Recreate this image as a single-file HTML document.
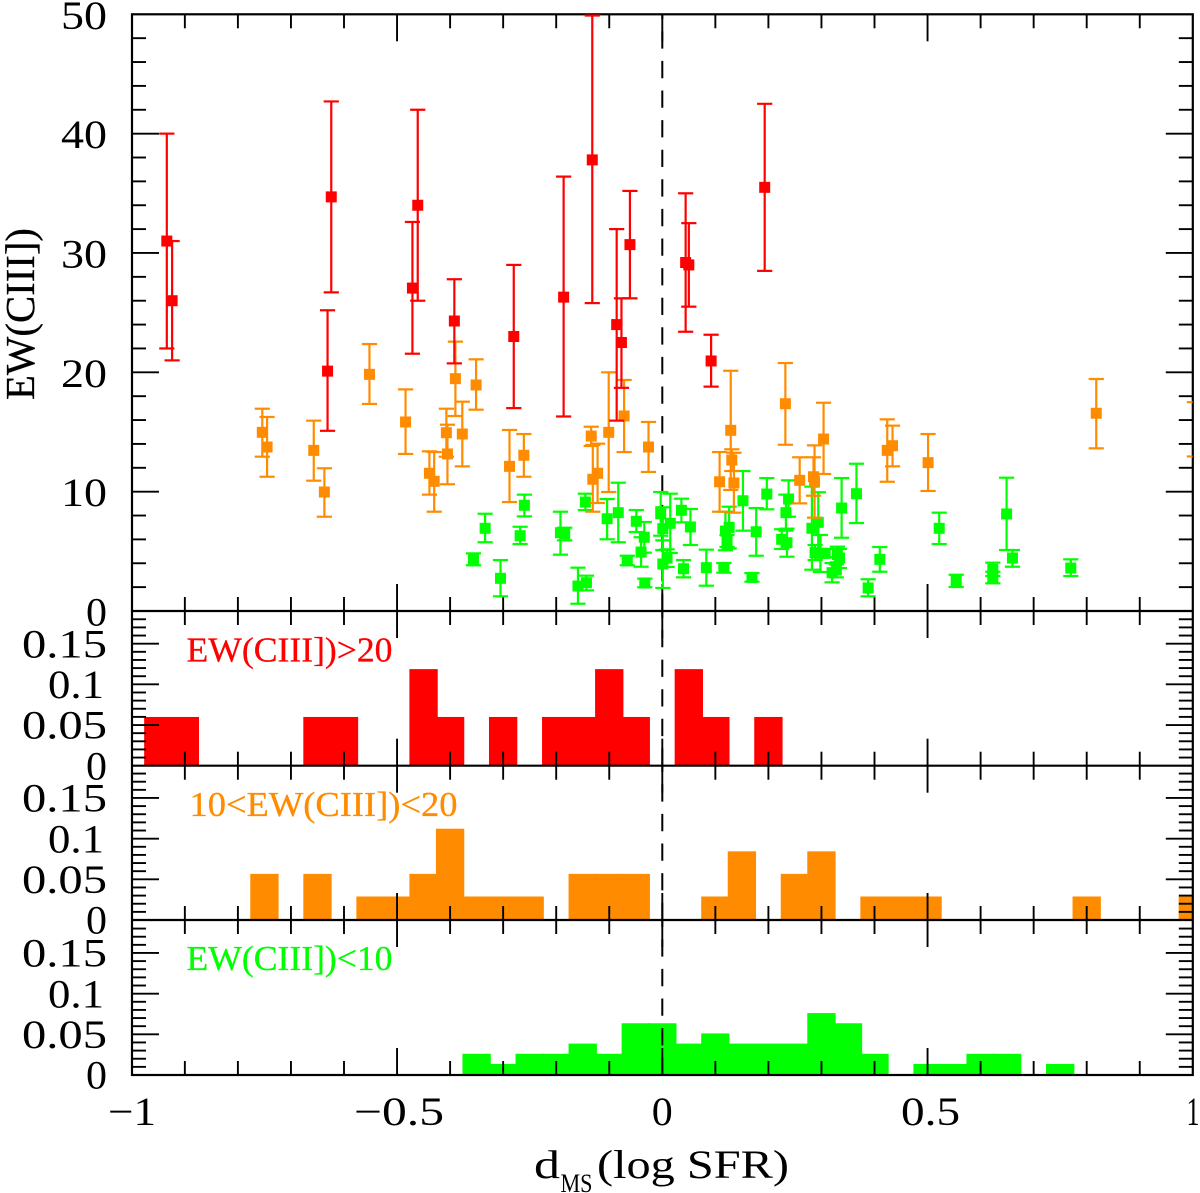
<!DOCTYPE html>
<html lang="en">
<head>
<meta charset="utf-8">
<title>EW(CIII]) versus distance from the main sequence</title>
<style>
  html, body { margin: 0; padding: 0; background: #fff; }
  svg { display: block; }
  text { font-family: "Liberation Serif", "DejaVu Serif", serif; fill: #000; }
  .heavy { stroke-width: 0.3px; }
</style>
</head>
<body>
<svg id="chart" width="1200" height="1193" viewBox="0 0 1200 1193" xmlns="http://www.w3.org/2000/svg">
  <defs>
    <clipPath id="clip-main"><rect x="131.5" y="14.3" width="1061" height="596.7"/></clipPath>
    <clipPath id="clip-red"><rect x="131.5" y="611" width="1061" height="154.7"/></clipPath>
    <clipPath id="clip-orange"><rect x="131.5" y="765.7" width="1061" height="154.3"/></clipPath>
    <clipPath id="clip-green"><rect x="131.5" y="920" width="1061" height="155"/></clipPath>
  </defs>
  <g id="layer-hist"></g>
  <g id="layer-dash"></g>
  <g id="layer-ticks"></g>
  <g id="layer-frame"></g>
  <g id="layer-scatter" clip-path="url(#clip-main)"></g>
  <g id="layer-labels"></g>

  <text class="heavy" stroke="#000" transform="translate(34,400) rotate(-90)" font-size="41" textLength="172" lengthAdjust="spacingAndGlyphs">EW(CIII])</text>
  <text x="534" y="1178" font-size="40" textLength="26" lengthAdjust="spacingAndGlyphs">d</text>
  <text x="560.5" y="1192" font-size="26" textLength="32" lengthAdjust="spacingAndGlyphs">MS</text>
  <text x="597" y="1178" font-size="40" textLength="192" lengthAdjust="spacingAndGlyphs">(log SFR)</text>

  <text class="heavy" stroke="#ff0000" x="186.5" y="661.7" font-size="35" textLength="206" lengthAdjust="spacingAndGlyphs" style="fill:#ff0000">EW(CIII])&gt;20</text>
  <text class="heavy" stroke="#ff8c00" x="189.5" y="816" font-size="35" textLength="268" lengthAdjust="spacingAndGlyphs" style="fill:#ff8c00">10&lt;EW(CIII])&lt;20</text>
  <text class="heavy" stroke="#00ff00" x="186.5" y="970" font-size="35" textLength="206" lengthAdjust="spacingAndGlyphs" style="fill:#00ff00">EW(CIII])&lt;10</text>
</svg>

<script>
// ---- Scatter data: dMS, EW value, upper and lower error-bar ends ----
const redX  = [-0.934,-0.924,-0.624,-0.461,-0.471,-0.392,-0.280,-0.631,-0.186,-0.132,-0.061,-0.086,-0.077,0.044,0.050,0.193,0.092];
const redY  = [31.0,26.0,34.7,34.0,27.06,24.3,23.0,20.1,26.3,37.8,30.7,24.0,22.5,29.2,29.0,35.5,20.95];
const redHi = [40.0,31.0,42.7,42.0,32.6,27.8,29.0,25.2,36.4,49.9,35.2,32.0,26.2,35.0,32.5,42.5,23.15];
const redLo = [22.0,21.0,26.7,26.0,21.56,20.75,17.0,15.1,16.3,25.8,26.2,15.95,18.7,23.4,25.5,28.5,18.8];

const orangeX  = [-0.754,-0.745,-0.657,-0.637,-0.552,-0.484,-0.439,-0.430,-0.407,-0.405,-0.390,-0.377,-0.351,-0.288,-0.261,-0.134,-0.131,-0.122,-0.101,-0.072,-0.026,0.108,0.129,0.131,0.135,0.232,0.259,0.287,0.285,0.304,0.424,0.434,0.501,0.818,1.003];
const orangeY  = [14.97,13.74,13.46,9.97,19.83,15.84,11.54,10.87,14.94,13.16,19.47,14.83,18.94,12.12,13.05,14.66,11.04,11.54,14.97,16.34,13.74,10.83,15.14,12.65,10.73,17.37,10.95,10.87,11.25,14.41,13.46,13.85,12.43,16.57,15.2];
const orangeHi = [16.95,16.26,15.95,11.96,22.37,18.57,13.38,13.32,16.95,15.61,22.57,17.54,21.09,15.17,14.83,15.44,13.91,14.02,20.0,19.36,15.84,13.32,20.13,13.55,13.26,20.78,12.88,13.88,12.88,17.45,16.06,15.53,14.83,19.44,17.5];
const orangeLo = [12.93,11.25,10.92,7.9,17.35,13.16,9.75,8.32,12.93,10.62,16.34,12.12,16.87,9.13,11.25,13.83,8.32,9.05,9.97,13.32,11.65,8.32,10.14,11.73,8.24,13.93,9.02,7.82,9.66,11.48,10.83,12.12,10.06,13.63,12.95];

const greenX  = [-0.356,-0.334,-0.305,-0.268,-0.260,-0.192,-0.184,-0.159,-0.143,-0.145,-0.104,-0.083,-0.066,-0.049,-0.034,-0.040,-0.033,-0.003,0.001,0.001,0.015,0.009,0.036,0.053,0.040,0.083,0.116,0.119,0.122,0.126,0.152,0.169,0.177,0.197,0.225,0.235,0.233,0.238,0.282,0.294,0.288,0.298,0.307,0.338,0.366,0.330,0.334,0.320,0.328,0.410,0.388,0.522,0.554,0.623,0.623,0.649,0.660,0.770];
const greenY  = [4.36,6.93,2.74,6.31,8.86,6.56,6.48,2.09,2.37,9.13,7.73,8.24,4.25,7.52,6.18,4.94,2.35,8.15,6.9,3.94,7.35,4.44,8.44,7.04,3.54,3.63,3.63,6.7,5.87,7.01,9.24,2.82,6.64,9.8,6.01,5.72,8.24,9.38,6.93,7.43,4.89,4.83,4.83,8.63,9.83,4.72,4.44,3.21,3.44,4.33,1.93,6.93,2.54,3.49,2.82,8.13,4.44,3.6];
const greenHi = [4.83,8.15,4.27,7.06,9.75,8.32,6.98,3.63,2.96,9.83,9.38,10.75,4.63,8.46,7.46,6.18,2.71,9.97,8.69,5.92,9.83,5.17,9.41,8.55,4.27,5.14,4.02,8.32,6.37,8.74,11.73,3.18,8.63,11.14,6.85,6.9,9.75,10.95,10.42,9.95,5.53,6.37,5.2,11.14,12.34,5.39,5.2,4.02,3.9,5.36,2.66,8.24,3.04,4.05,3.29,11.17,5.11,4.33];
const greenLo = [3.83,5.76,1.23,5.61,7.93,4.72,5.92,0.61,1.73,8.46,6.01,5.76,3.83,6.62,4.89,3.71,1.99,6.31,5.11,1.93,4.86,3.69,7.43,5.53,2.82,2.12,3.21,5.09,5.36,5.25,6.73,2.46,4.63,8.52,5.2,4.55,6.73,7.9,3.46,4.83,4.27,3.27,4.5,6.14,7.37,4.08,3.6,2.4,2.82,3.29,1.23,5.61,2.01,2.93,2.32,5.11,3.71,2.93];

// ---- Histogram data: bin centres and fractions ----
const redBins    = [-0.95,-0.9,-0.65,-0.6,-0.45,-0.4,-0.3,-0.2,-0.15,-0.1,-0.05,0.05,0.1,0.2];
const redFrac    = [0.0588,0.0588,0.0588,0.0588,0.1176,0.0588,0.0588,0.0588,0.0588,0.1176,0.0588,0.1176,0.0588,0.0588];
const orangeBins = [-0.75,-0.65,-0.55,-0.5,-0.45,-0.4,-0.35,-0.3,-0.25,-0.15,-0.1,-0.05,0.1,0.15,0.25,0.3,0.4,0.45,0.5,0.8,1.0];
const orangeFrac = [0.0556,0.0556,0.0278,0.0278,0.0556,0.1111,0.0278,0.0278,0.0278,0.0556,0.0556,0.0556,0.0278,0.0833,0.0556,0.0833,0.0278,0.0278,0.0278,0.0278,0.0278];
const greenBins  = [-0.35,-0.3,-0.25,-0.2,-0.15,-0.1,-0.05,0,0.05,0.1,0.15,0.2,0.25,0.3,0.35,0.4,0.5,0.55,0.6,0.65,0.75];
const greenFrac  = [0.025,0.0125,0.025,0.025,0.0375,0.025,0.0625,0.0625,0.0375,0.05,0.0375,0.0375,0.0375,0.075,0.0625,0.025,0.0125,0.0125,0.025,0.025,0.0125];

// ---- Tick labels ----
const xTickValues   = [-1,-0.5,0,0.5,1];
const xTickLabels   = ["\u22121","\u22120.5","0","0.5","1"];
const mainTickValues = [0,10,20,30,40,50];
const mainTickLabels = ["0","10","20","30","40","50"];
const histTickValues = [0,0.05,0.1,0.15];
const histTickLabels = ["0","0.05","0.1","0.15"];

const NS = "http://www.w3.org/2000/svg";
const RED = "#ff0000", ORANGE = "#ff8c00", GREEN = "#00ff00";
const LEFT = 132, RIGHT = 1192.8;
const MAIN_TOP = 14.3, MAIN_BOTTOM = 611;
const PANEL_BOTTOMS = [765.7, 920, 1075];
const PANEL_TOPS = [611, 765.7, 920];

function xScale(v) { return 662.3 + 530.5 * v; }
function yMain(v) { return MAIN_BOTTOM - 11.934 * v; }
function yHist(v, base) { return base - 813.5 * v; }

function mkLine(parent, x1, y1, x2, y2, color, width) {
  const el = document.createElementNS(NS, "line");
  el.setAttribute("x1", x1);
  el.setAttribute("y1", y1);
  el.setAttribute("x2", x2);
  el.setAttribute("y2", y2);
  el.setAttribute("stroke", color);
  el.setAttribute("stroke-width", width);
  parent.appendChild(el);
  return el;
}

function mkTickLabel(parent, label, right, baseline, width) {
  const el = document.createElementNS(NS, "text");
  el.setAttribute("x", right - width);
  el.setAttribute("y", baseline);
  el.setAttribute("font-size", "40");
  el.setAttribute("textLength", width);
  el.setAttribute("lengthAdjust", "spacingAndGlyphs");
  el.textContent = label;
  parent.appendChild(el);
  return el;
}

// ---- Histograms ----
function drawHist(bins, fracs, color, panelIndex, clipId) {
  const layer = document.getElementById("layer-hist");
  const g = document.createElementNS(NS, "g");
  g.setAttribute("clip-path", "url(#" + clipId + ")");
  
  
  layer.appendChild(g);
  const base = PANEL_BOTTOMS[panelIndex];
  bins.forEach(function (b, i) {
    const x0 = xScale(b - 0.025);
    const x1 = xScale(b + 0.025);
    const top = yHist(fracs[i], base);
    const r = document.createElementNS(NS, "rect");
    r.setAttribute("x", x0);
    r.setAttribute("y", top);
    r.setAttribute("width", x1 - x0);
    r.setAttribute("height", base - top);
    r.setAttribute("fill", color);
    r.setAttribute("stroke", color);
    r.setAttribute("stroke-width", "1.8");
    
    
    g.appendChild(r);
  });
}
drawHist(redBins, redFrac, RED, 0, "clip-red");
drawHist(orangeBins, orangeFrac, ORANGE, 1, "clip-orange");
drawHist(greenBins, greenFrac, GREEN, 2, "clip-green");

// ---- Dashed zero line, drawn upward from each panel's base ----
const dashLayer = document.getElementById("layer-dash");
[[MAIN_BOTTOM, MAIN_TOP], [PANEL_BOTTOMS[0], PANEL_TOPS[0]], [PANEL_BOTTOMS[1], PANEL_TOPS[1]], [PANEL_BOTTOMS[2], PANEL_TOPS[2]]].forEach(function (p) {
  const d = mkLine(dashLayer, xScale(0), p[0], xScale(0), p[1], "#000", 2);
  d.setAttribute("stroke-dasharray", "17.3 12.3");
  
  
});

// ---- Ticks ----
const tickLayer = document.getElementById("layer-ticks");
function drawXTicks(top, bottom) {
  for (let k = -9; k <= 9; k++) {
    const isMajor = (k % 5 === 0);
    const len = isMajor ? 27 : 14;
    const x = xScale(k / 10);
    const a = mkLine(tickLayer, x, bottom, x, bottom - len, "#000", 1.9);
    
    
    const b = mkLine(tickLayer, x, top, x, top + len, "#000", 1.9);
    
    
  }
}
function drawYTick(y, len) {
  const a = mkLine(tickLayer, LEFT, y, LEFT + len, y, "#000", 1.9);
  
  
  const b = mkLine(tickLayer, RIGHT, y, RIGHT - len, y, "#000", 1.9);
  
  
}
drawXTicks(MAIN_TOP, MAIN_BOTTOM);
for (let v = 2; v < 50; v += 2) {
  drawYTick(yMain(v), v % 10 === 0 ? 27 : 14);
}
PANEL_BOTTOMS.forEach(function (base, i) {
  drawXTicks(PANEL_TOPS[i], base);
  for (let k = 1; k <= 18; k++) {
    drawYTick(yHist(k / 100, base), k % 5 === 0 ? 27 : 14);
  }
});

// ---- Frames ----
const frameLayer = document.getElementById("layer-frame");
const frame = document.createElementNS(NS, "rect");
frame.setAttribute("x", LEFT);
frame.setAttribute("y", MAIN_TOP);
frame.setAttribute("width", RIGHT - LEFT);
frame.setAttribute("height", PANEL_BOTTOMS[2] - MAIN_TOP);
frame.setAttribute("fill", "none");
frame.setAttribute("stroke", "#000");
frame.setAttribute("stroke-width", "2.2");


frameLayer.appendChild(frame);
[MAIN_BOTTOM, PANEL_BOTTOMS[0], PANEL_BOTTOMS[1]].forEach(function (y) {
  const s = mkLine(frameLayer, LEFT, y, RIGHT, y, "#000", 2.2);
  
  
});

// ---- Scatter with error bars ----
const MARKER = 11, CAP = 7.6;
function drawSeries(name, xs, ys, his, los, color) {
  const layer = document.getElementById("layer-scatter");
  const g = document.createElementNS(NS, "g");
  
  
  layer.appendChild(g);
  xs.forEach(function (xv, i) {
    const x = xScale(xv), y = yMain(ys[i]), hi = yMain(his[i]), lo = yMain(los[i]);
    const stem = mkLine(g, x, hi, x, lo, color, 2.2);
    
    
    const capTop = mkLine(g, x - CAP, hi, x + CAP, hi, color, 2.2);
    
    
    const capBottom = mkLine(g, x - CAP, lo, x + CAP, lo, color, 2.2);
    
    
    if (xv <= 1) {
      const m = document.createElementNS(NS, "rect");
      m.setAttribute("x", x - MARKER / 2);
      m.setAttribute("y", y - MARKER / 2);
      m.setAttribute("width", MARKER);
      m.setAttribute("height", MARKER);
      m.setAttribute("fill", color);
      
      
      g.appendChild(m);
    }
  });
}
drawSeries("green", greenX, greenY, greenHi, greenLo, GREEN);
drawSeries("orange", orangeX, orangeY, orangeHi, orangeLo, ORANGE);
drawSeries("red", redX, redY, redHi, redLo, RED);

// ---- Tick labels ----
const labelLayer = document.getElementById("layer-labels");
function labelWidth(s) {
  if (s === "0.15" || s === "0.05") return 85;
  if (s === "0.1") return 56;
  if (s.length === 2) return 46;
  return 21;
}
mainTickValues.forEach(function (v, i) {
  const t = mkTickLabel(labelLayer, mainTickLabels[i], 107, yMain(v) + 14.5, labelWidth(mainTickLabels[i]));
  
  
});
PANEL_BOTTOMS.forEach(function (base) {
  histTickValues.forEach(function (v, i) {
    const s = histTickLabels[i];
    const right = (s === "0.1") ? 104 : 107;
    const t = mkTickLabel(labelLayer, s, right, yHist(v, base) + 13.6, labelWidth(s));
    
    
  });
});
const xLabelWidths = { "\u22121": 48, "\u22120.5": 90, "0": 21, "0.5": 59, "1": 13 };
xTickValues.forEach(function (v, i) {
  const s = xTickLabels[i];
  const w = xLabelWidths[s];
  const centre = (s === "\u22121") ? 132 : (s === "\u22120.5") ? 399 : (s === "1") ? 1193 : xScale(v) + (s === "0.5" ? 3 : 0);
  const t = mkTickLabel(labelLayer, s, centre + w / 2, 1125, w);
  
  
});
</script>
</body>
</html>
